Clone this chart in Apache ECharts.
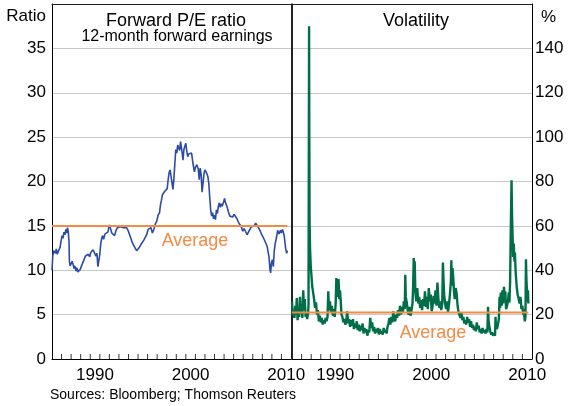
<!DOCTYPE html>
<html>
<head>
<meta charset="utf-8">
<script src="https://cdn.jsdelivr.net/npm/echarts@6/dist/echarts.min.js"></script>
<style>
    html, body { margin: 0; padding: 0; background: #fff; }
    #chart { width: 569px; height: 406px; }
</style>
</head>
<body>
<div id="chart"></div>
<script>
// forward P/E ratio, [decimal year, ratio]
const peRatio = [
    [1986.00, 10.0], [1986.08, 11.6], [1986.17, 12.2], [1986.25, 12.4], [1986.35, 11.9], [1986.45, 12.4],
    [1986.55, 11.8], [1986.65, 12.1], [1986.75, 11.9], [1986.85, 12.6], [1986.95, 13.3], [1987.05, 13.9],
    [1987.15, 13.6], [1987.25, 14.3], [1987.35, 14.0], [1987.45, 14.6], [1987.55, 14.2], [1987.62, 14.8],
    [1987.70, 14.4], [1987.78, 13.2], [1987.82, 11.0], [1987.90, 10.5], [1988.00, 10.6], [1988.10, 11.0],
    [1988.20, 10.7], [1988.30, 10.2], [1988.40, 10.5], [1988.50, 9.9], [1988.60, 10.3], [1988.70, 9.8],
    [1988.85, 9.7], [1988.95, 10.1], [1989.05, 10.3], [1989.20, 10.8], [1989.35, 11.2], [1989.50, 11.6],
    [1989.65, 11.4], [1989.80, 11.8], [1989.95, 11.5], [1990.05, 12.0], [1990.15, 11.8], [1990.30, 12.3],
    [1990.45, 12.1], [1990.60, 11.6], [1990.70, 11.9], [1990.80, 10.4], [1990.90, 10.6], [1991.00, 11.8],
    [1991.10, 13.0], [1991.20, 13.6], [1991.30, 13.9], [1991.40, 13.5], [1991.55, 14.1], [1991.70, 13.9],
    [1991.85, 14.3], [1992.00, 15.1], [1992.10, 14.8], [1992.25, 14.2], [1992.40, 14.3], [1992.55, 13.9],
    [1992.70, 14.5], [1992.85, 14.8], [1993.00, 14.6], [1993.15, 14.9], [1993.30, 14.7], [1993.50, 14.8],
    [1993.65, 14.6], [1993.80, 14.8], [1993.95, 14.5], [1994.10, 14.3], [1994.25, 13.6], [1994.40, 13.1],
    [1994.55, 12.8], [1994.70, 12.5], [1994.85, 12.2], [1995.00, 12.3], [1995.15, 12.6], [1995.30, 12.9],
    [1995.45, 13.1], [1995.60, 13.4], [1995.75, 13.7], [1995.90, 14.0], [1996.05, 14.6], [1996.20, 14.4],
    [1996.35, 14.8], [1996.50, 14.2], [1996.65, 14.6], [1996.80, 15.2], [1996.95, 15.5], [1997.10, 16.2],
    [1997.25, 16.5], [1997.35, 17.4], [1997.45, 17.9], [1997.55, 18.5], [1997.65, 18.7], [1997.80, 18.9],
    [1997.95, 18.9], [1998.05, 19.2], [1998.15, 20.2], [1998.25, 21.0], [1998.35, 21.3], [1998.45, 20.6],
    [1998.55, 20.4], [1998.65, 19.1], [1998.75, 20.3], [1998.85, 22.0], [1998.95, 23.6], [1999.05, 23.2],
    [1999.15, 24.1], [1999.25, 24.3], [1999.35, 23.5], [1999.45, 24.5], [1999.55, 24.3], [1999.62, 23.2],
    [1999.70, 22.4], [1999.80, 23.6], [1999.90, 24.0], [2000.00, 24.3], [2000.10, 23.4], [2000.20, 22.8],
    [2000.30, 23.1], [2000.45, 22.9], [2000.60, 23.2], [2000.75, 22.0], [2000.90, 21.1], [2001.00, 21.6],
    [2001.15, 21.9], [2001.30, 21.4], [2001.40, 20.2], [2001.50, 21.5], [2001.60, 20.8], [2001.70, 18.8],
    [2001.80, 19.8], [2001.90, 20.9], [2002.00, 21.3], [2002.15, 21.0], [2002.30, 20.6], [2002.40, 19.8],
    [2002.50, 18.2], [2002.60, 16.8], [2002.70, 16.1], [2002.80, 16.5], [2002.90, 15.8], [2003.00, 16.2],
    [2003.10, 15.7], [2003.20, 16.8], [2003.30, 16.4], [2003.40, 17.2], [2003.50, 17.6], [2003.60, 17.1],
    [2003.70, 17.5], [2003.80, 17.2], [2003.95, 17.7], [2004.05, 18.1], [2004.15, 17.6], [2004.30, 17.2],
    [2004.45, 16.6], [2004.60, 16.1], [2004.75, 16.3], [2004.90, 16.0], [2005.05, 16.3], [2005.20, 16.2],
    [2005.35, 15.8], [2005.50, 15.4], [2005.65, 15.3], [2005.80, 14.9], [2005.95, 14.4], [2006.10, 14.7],
    [2006.25, 14.5], [2006.40, 14.0], [2006.55, 14.2], [2006.70, 14.6], [2006.85, 14.9], [2007.00, 14.7],
    [2007.15, 15.0], [2007.30, 15.3], [2007.45, 15.1], [2007.60, 14.8], [2007.75, 14.5], [2007.90, 14.1],
    [2008.05, 13.8], [2008.20, 13.6], [2008.35, 13.1], [2008.50, 12.7], [2008.60, 12.9], [2008.70, 11.5],
    [2008.80, 10.1], [2008.87, 9.7], [2008.95, 10.8], [2009.05, 11.2], [2009.15, 10.4], [2009.25, 12.2],
    [2009.35, 13.0], [2009.50, 13.8], [2009.60, 14.5], [2009.75, 14.1], [2009.90, 14.5], [2010.00, 14.2],
    [2010.10, 14.6], [2010.20, 14.3], [2010.30, 13.8], [2010.38, 13.0], [2010.45, 12.4], [2010.55, 11.9],
    [2010.62, 12.2]
]

// volatility, [decimal year, per cent]
const volatility = [
    [1986.00, 26.0], [1986.08, 19.5], [1986.15, 22.0], [1986.25, 18.5], [1986.33, 24.0], [1986.42, 20.0],
    [1986.50, 27.5], [1986.58, 17.5], [1986.67, 23.0], [1986.75, 19.0], [1986.83, 28.0], [1986.92, 21.0],
    [1987.00, 24.5], [1987.08, 18.5], [1987.17, 31.0], [1987.25, 22.0], [1987.33, 27.0], [1987.42, 19.0],
    [1987.50, 21.0], [1987.58, 18.0], [1987.67, 20.5], [1987.72, 24.0], [1987.78, 150.0], [1987.80, 105.0],
    [1987.83, 62.0], [1987.88, 50.0], [1987.95, 42.0], [1988.02, 38.0], [1988.10, 33.0], [1988.20, 30.0],
    [1988.30, 27.0], [1988.40, 23.0], [1988.50, 25.5], [1988.60, 20.0], [1988.70, 22.0], [1988.80, 17.0],
    [1988.90, 19.5], [1989.00, 16.5], [1989.10, 18.5], [1989.20, 15.5], [1989.30, 17.5], [1989.40, 16.0],
    [1989.50, 18.5], [1989.60, 17.0], [1989.70, 19.0], [1989.78, 30.5], [1989.85, 22.0], [1989.95, 26.0],
    [1990.05, 21.0], [1990.15, 24.0], [1990.25, 19.5], [1990.35, 22.5], [1990.45, 19.0], [1990.55, 25.0],
    [1990.62, 36.5], [1990.68, 28.0], [1990.75, 34.0], [1990.85, 36.0], [1990.92, 27.0], [1991.00, 31.0],
    [1991.08, 26.0], [1991.15, 20.0], [1991.25, 19.0], [1991.35, 16.5], [1991.45, 18.0], [1991.55, 15.5],
    [1991.65, 17.0], [1991.75, 21.5], [1991.85, 16.0], [1991.95, 18.0], [1992.05, 14.5], [1992.15, 17.5],
    [1992.25, 15.0], [1992.35, 18.0], [1992.45, 13.5], [1992.55, 16.0], [1992.65, 14.0], [1992.75, 17.0],
    [1992.85, 13.0], [1992.95, 15.5], [1993.05, 12.5], [1993.15, 15.0], [1993.25, 13.0], [1993.35, 16.0],
    [1993.45, 11.5], [1993.55, 14.0], [1993.65, 12.0], [1993.75, 13.5], [1993.85, 10.5], [1993.95, 13.0],
    [1994.05, 12.0], [1994.15, 18.5], [1994.25, 14.0], [1994.35, 16.5], [1994.45, 12.5], [1994.55, 14.5],
    [1994.65, 11.5], [1994.75, 13.5], [1994.85, 12.0], [1994.95, 14.0], [1995.05, 11.0], [1995.15, 13.5],
    [1995.25, 11.5], [1995.35, 12.5], [1995.45, 11.0], [1995.55, 14.0], [1995.65, 12.0], [1995.75, 13.0],
    [1995.85, 11.5], [1995.95, 14.5], [1996.05, 16.0], [1996.15, 18.5], [1996.25, 15.5], [1996.35, 19.0],
    [1996.45, 16.5], [1996.55, 21.5], [1996.65, 18.0], [1996.75, 17.0], [1996.85, 20.0], [1996.95, 18.5],
    [1997.05, 22.0], [1997.15, 19.5], [1997.25, 24.0], [1997.35, 20.0], [1997.45, 23.5], [1997.55, 21.0],
    [1997.65, 26.0], [1997.75, 22.5], [1997.80, 38.0], [1997.85, 28.0], [1997.95, 25.5], [1998.05, 22.0],
    [1998.15, 20.0], [1998.25, 23.5], [1998.35, 19.5], [1998.45, 22.0], [1998.55, 25.0], [1998.62, 33.0],
    [1998.68, 45.5], [1998.72, 38.0], [1998.78, 44.0], [1998.85, 30.0], [1998.95, 26.0], [1999.05, 32.0],
    [1999.15, 25.0], [1999.25, 28.0], [1999.35, 23.0], [1999.45, 26.5], [1999.55, 22.0], [1999.65, 27.0],
    [1999.75, 24.0], [1999.85, 30.5], [1999.95, 23.5], [2000.05, 28.0], [2000.15, 22.5], [2000.25, 32.0],
    [2000.35, 26.0], [2000.45, 29.0], [2000.55, 21.5], [2000.65, 24.0], [2000.75, 28.5], [2000.85, 25.0],
    [2000.95, 31.0], [2001.05, 24.0], [2001.15, 34.5], [2001.25, 27.0], [2001.35, 23.0], [2001.45, 26.0],
    [2001.55, 22.0], [2001.65, 25.0], [2001.72, 43.5], [2001.78, 36.0], [2001.85, 29.0], [2001.95, 25.0],
    [2002.05, 22.5], [2002.15, 26.0], [2002.25, 21.0], [2002.35, 24.5], [2002.45, 29.0], [2002.55, 35.0],
    [2002.60, 44.5], [2002.65, 33.0], [2002.72, 41.0], [2002.80, 36.5], [2002.88, 30.0], [2002.95, 27.0],
    [2003.05, 32.0], [2003.15, 29.5], [2003.25, 24.0], [2003.35, 21.0], [2003.45, 20.5], [2003.55, 18.5],
    [2003.65, 21.0], [2003.75, 17.5], [2003.85, 19.0], [2003.95, 16.0], [2004.05, 17.5], [2004.15, 15.5],
    [2004.25, 19.0], [2004.35, 16.5], [2004.45, 18.0], [2004.55, 14.5], [2004.65, 17.0], [2004.75, 14.0],
    [2004.85, 15.5], [2004.95, 13.0], [2005.05, 14.5], [2005.15, 12.5], [2005.25, 16.5], [2005.35, 13.5],
    [2005.45, 15.0], [2005.55, 12.0], [2005.65, 13.5], [2005.75, 11.5], [2005.85, 14.0], [2005.95, 12.0],
    [2006.05, 13.0], [2006.15, 11.5], [2006.25, 13.5], [2006.35, 12.0], [2006.42, 23.5], [2006.48, 17.0],
    [2006.55, 15.0], [2006.65, 12.5], [2006.75, 11.0], [2006.85, 12.0], [2006.95, 10.5], [2007.05, 11.5],
    [2007.15, 10.5], [2007.20, 19.0], [2007.25, 15.0], [2007.35, 13.5], [2007.45, 15.5], [2007.55, 18.0],
    [2007.62, 28.0], [2007.68, 23.0], [2007.75, 30.0], [2007.85, 24.0], [2007.92, 31.0], [2008.00, 25.0],
    [2008.08, 32.5], [2008.15, 27.0], [2008.22, 30.5], [2008.30, 22.5], [2008.40, 24.0], [2008.50, 26.0],
    [2008.58, 30.0], [2008.65, 25.5], [2008.72, 35.0], [2008.78, 55.0], [2008.83, 70.0], [2008.87, 80.5],
    [2008.92, 65.0], [2008.97, 57.0], [2009.03, 46.0], [2009.10, 52.0], [2009.17, 44.0], [2009.22, 48.0],
    [2009.30, 39.0], [2009.40, 33.0], [2009.50, 29.0], [2009.60, 27.5], [2009.70, 25.0], [2009.80, 28.0],
    [2009.90, 22.5], [2010.00, 24.0], [2010.08, 20.0], [2010.15, 22.5], [2010.25, 17.0], [2010.32, 19.0],
    [2010.37, 45.0], [2010.42, 36.0], [2010.48, 30.0], [2010.53, 26.0], [2010.58, 31.0], [2010.62, 25.0]
]

const peAverage = 15
const volAverage = 21
const sampleStart = 1986
const sampleEnd = 2010.62

// year boundaries that get a tick mark
const yearTicks = [
    1987, 1988, 1989, 1990, 1991, 1992, 1993, 1994, 1995, 1996, 1997, 1998,
    1999, 2000, 2001, 2002, 2003, 2004, 2005, 2006, 2007, 2008, 2009, 2010
]
// years that get a label (drawn in the middle of the year)
const yearLabels = [1990, 2000, 2010]

const font = 'Liberation Sans, Arial, sans-serif'
const blue = '#2c4ba5'
const green = '#006f48'
const orange = '#f28b44'
const frame = '#222'

const chart = echarts.init(document.getElementById('chart'), null, { renderer: 'canvas' })

function yearAxis(gridIndex) {
    return {
        type: 'value',
        gridIndex: gridIndex,
        position: 'bottom',
        min: 1986,
        max: 2011,
        interval: 1,
        axisLine: { show: true, onZero: false, lineStyle: { color: '#000', width: 1 } },
        axisTick: { show: false },
        axisLabel: { show: false },
        splitLine: { show: false }
    }
}

// label-only axis shifted half a year, so v sits at v + 0.5 on the year axis
function labelAxis(gridIndex) {
    return {
        type: 'value',
        gridIndex: gridIndex,
        position: 'bottom',
        min: 1985.5,
        max: 2010.5,
        interval: 0.5,
        axisLine: { show: false, onZero: false },
        axisTick: { show: false },
        axisLabel: {
            formatter: function (v) { return yearLabels.indexOf(v) >= 0 ? String(v) : '' },
            color: '#000',
            fontFamily: font,
            fontSize: 17,
            margin: 8,
            showMinLabel: true,
            showMaxLabel: true
        },
        splitLine: { show: false }
    }
}

// bare axis line used as a frame edge
function frameXAxis(gridIndex) {
    return {
        type: 'value',
        gridIndex: gridIndex,
        position: 'top',
        min: 1986,
        max: 2011,
        axisLine: { show: true, onZero: false, lineStyle: { color: frame } },
        axisTick: { show: false },
        axisLabel: { show: false },
        splitLine: { show: false }
    }
}

function frameYAxis(gridIndex, position, max) {
    return {
        type: 'value',
        gridIndex: gridIndex,
        position: position,
        min: 0,
        max: max,
        axisLine: { show: true, onZero: false, lineStyle: { color: frame } },
        axisTick: { show: false },
        axisLabel: { show: false },
        splitLine: { show: false }
    }
}

// small upward tick marks sitting on the year axis
function tickSeries(index) {
    return {
        type: 'scatter',
        xAxisIndex: index,
        yAxisIndex: index,
        symbol: 'rect',
        symbolSize: [1, 5],
        symbolOffset: [0, -2.5],
        itemStyle: { color: '#000' },
        silent: true,
        clip: false,
        data: yearTicks.map(function (y) { return [y, 0] }),
        z: 5
    }
}

function text(x, y, str, size, align, color) {
    return {
        type: 'text',
        x: x,
        y: y,
        style: {
            text: str,
            fill: color || '#000',
            font: size + 'px ' + font,
            textAlign: align || 'center',
            textVerticalAlign: 'middle'
        }
    }
}

chart.setOption({
    backgroundColor: '#fff',
    animation: false,
    grid: [
        { left: 52, right: 278, top: 4, bottom: 47 },
        { left: 292, right: 37, top: 4, bottom: 47 }
    ],
    xAxis: [yearAxis(0), yearAxis(1), labelAxis(0), labelAxis(1), frameXAxis(0), frameXAxis(1)],
    yAxis: [
        {
            type: 'value',
            gridIndex: 0,
            position: 'left',
            min: 0,
            max: 40,
            interval: 5,
            axisLine: { show: true, onZero: false, lineStyle: { color: '#000' } },
            axisTick: { show: false },
            axisLabel: {
                formatter: function (v) { return v === 40 ? '' : v },
                color: '#000',
                fontFamily: font,
                fontSize: 17,
                margin: 6
            },
            splitLine: { lineStyle: { color: '#c8c8c8', width: 1 } }
        },
        {
            type: 'value',
            gridIndex: 1,
            position: 'right',
            min: 0,
            max: 160,
            interval: 20,
            axisLine: { show: true, onZero: false, lineStyle: { color: '#000' } },
            axisTick: { show: false },
            axisLabel: {
                formatter: function (v) { return v === 160 ? '' : v },
                color: '#000',
                fontFamily: font,
                fontSize: 17,
                margin: 3
            },
            splitLine: { lineStyle: { color: '#c8c8c8', width: 1 } }
        },
        frameYAxis(0, 'right', 40),
        frameYAxis(1, 'left', 160)
    ],
    series: [
        {
            name: 'Forward P/E ratio',
            type: 'line',
            xAxisIndex: 0,
            yAxisIndex: 0,
            showSymbol: false,
            lineStyle: { color: blue, width: 1.6 },
            data: peRatio,
            z: 3
        },
        {
            name: 'P/E average',
            type: 'line',
            xAxisIndex: 0,
            yAxisIndex: 0,
            showSymbol: false,
            lineStyle: { color: orange, width: 2 },
            data: [[sampleStart, peAverage], [sampleEnd, peAverage]],
            z: 4
        },
        {
            name: 'Volatility',
            type: 'line',
            xAxisIndex: 1,
            yAxisIndex: 1,
            showSymbol: false,
            lineStyle: { color: green, width: 2.4 },
            data: volatility,
            z: 3
        },
        {
            name: 'Volatility average',
            type: 'line',
            xAxisIndex: 1,
            yAxisIndex: 1,
            showSymbol: false,
            lineStyle: { color: orange, width: 2 },
            data: [[sampleStart, volAverage], [sampleEnd, volAverage]],
            z: 4
        },
        tickSeries(0),
        tickSeries(1)
    ],
    graphic: [
        text(176, 21, 'Forward P/E ratio', 18),
        text(177, 37, '12-month forward earnings', 16),
        text(416, 21, 'Volatility', 18),
        text(46, 16, 'Ratio', 17, 'right'),
        text(541, 17, '%', 17, 'left'),
        text(195, 241, 'Average', 18, 'center', orange),
        text(433, 333, 'Average', 18, 'center', orange),
        text(50, 395, 'Sources: Bloomberg; Thomson Reuters', 14, 'left')
    ]
})
</script>
</body>
</html>
